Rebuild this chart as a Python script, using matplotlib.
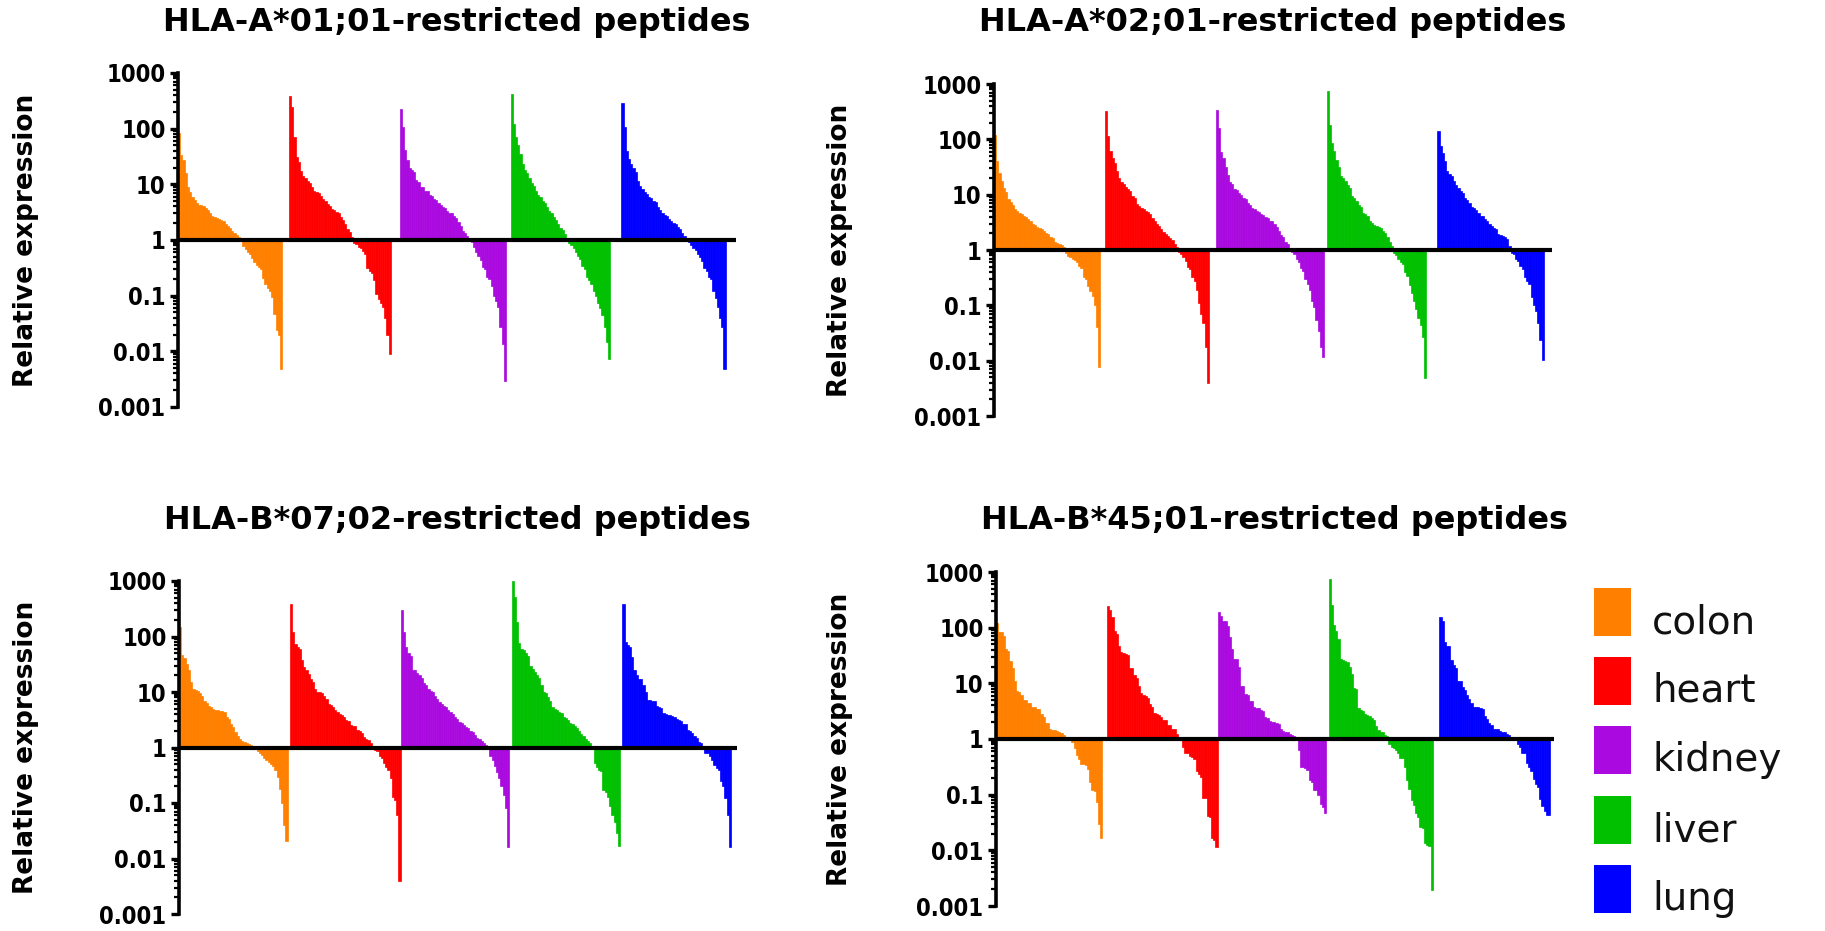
import matplotlib
matplotlib.use("Agg")
import matplotlib.pyplot as plt
from matplotlib.patches import Rectangle
from matplotlib.ticker import LogLocator, NullFormatter, FixedLocator, FixedFormatter
import numpy as np

# ---------------- data ----------------
tissues = ["colon", "heart", "kidney", "liver", "lung"]
tissue_colors = ["#FF8000", "#FF0000", "#AA0ADF", "#00C000", "#0000FF"]
panel_titles = ["HLA-A*01;01-restricted peptides", "HLA-A*02;01-restricted peptides",
                "HLA-B*07;02-restricted peptides", "HLA-B*45;01-restricted peptides"]
ytick_values = [0.001, 0.01, 0.1, 1, 10, 100, 1000]
ytick_labels = ["0.001", "0.01", "0.1", "1", "10", "100", "1000"]
y_label = "Relative expression"

# HLA-A*01;01
a0101_colon = [85, 33, 27, 16, 8.9, 7.2, 5.9, 5.2, 4.6, 4.3, 4.2, 4.0, 3.7, 3.4, 3.0, 2.75, 2.6, 2.5, 2.4, 2.3,
               2.15, 1.94, 1.8, 1.62, 1.43, 1.32, 1.23, 1.15, 0.95, 0.79, 0.69, 0.62, 0.56, 0.47, 0.4, 0.36,
               0.33, 0.30, 0.21, 0.16, 0.137, 0.12, 0.093, 0.047, 0.024, 0.02, 0.0048]
a0101_heart = [380, 245, 70, 31, 25, 17.7, 14.4, 13, 11.4, 10.5, 9.1, 7.7, 7.3, 7.0, 6.3, 5.5, 5.1, 4.5, 4.1, 3.6,
               3.5, 3.2, 3.0, 2.6, 2.3, 1.94, 1.58, 1.37, 1.15, 0.9, 0.85, 0.76, 0.72, 0.64, 0.56, 0.32, 0.28,
               0.26, 0.19, 0.107, 0.087, 0.075, 0.062, 0.04, 0.02, 0.0089]
a0101_kidney = [230, 107, 41, 27, 20, 18, 17, 12, 11, 9, 8.9, 7.7, 7.5, 6.5, 6.1, 5.5, 5.3, 4.6, 4.3, 3.9, 3.8,
                3.3, 3.1, 3.0, 2.7, 2.5, 2.1, 1.8, 1.45, 1.35, 1.2, 1.1, 0.92, 0.74, 0.6, 0.52, 0.44, 0.33, 0.3,
                0.22, 0.2, 0.15, 0.1, 0.08, 0.062, 0.027, 0.0134, 0.0029]
a0101_liver = [420, 122, 70, 50, 35, 23, 18, 16, 13, 10.5, 9.5, 7.7, 6.5, 5.9, 5.0, 4.6, 3.9, 3.3, 3.0, 2.6, 2.3,
               1.94, 1.65, 1.5, 1.28, 1.1, 0.88, 0.8, 0.72, 0.6, 0.52, 0.45, 0.34, 0.3, 0.22, 0.19, 0.16, 0.12,
               0.1, 0.075, 0.06, 0.045, 0.027, 0.015, 0.0072]
a0101_lung = [290, 107, 40, 28, 23, 20, 17, 11.7, 9.5, 8.3, 7.2, 6.8, 6.0, 5.6, 5.1, 4.8, 3.9, 3.4, 3.1, 2.8, 2.7,
              2.4, 2.2, 2.0, 1.9, 1.7, 1.55, 1.35, 1.2, 1.05, 0.92, 0.81, 0.72, 0.66, 0.55, 0.5, 0.42, 0.32,
              0.28, 0.22, 0.2, 0.12, 0.09, 0.062, 0.04, 0.027, 0.0048]

# HLA-A*02;01
a0201_colon = [120, 40, 25, 17.6, 13, 11, 8.5, 7.5, 6.5, 5.5, 5.0, 4.6, 4.4, 4.1, 4.0, 3.6, 3.4, 3.0, 2.8, 2.6,
               2.55, 2.4, 2.2, 2.0, 1.95, 1.75, 1.65, 1.4, 1.32, 1.28, 1.22, 1.12, 0.88, 0.78, 0.74, 0.68, 0.65,
               0.6, 0.52, 0.47, 0.33, 0.3, 0.22, 0.18, 0.15, 0.1, 0.04, 0.0078]
a0201_heart = [326, 113, 61, 46, 37, 27, 20, 17, 15.3, 13.7, 12.5, 11.6, 9.5, 8.8, 6.7, 6.3, 5.8, 5.6, 5.1, 4.8,
               4.4, 3.8, 3.4, 2.9, 2.7, 2.4, 2.1, 1.95, 1.8, 1.65, 1.5, 1.3, 1.15, 0.92, 0.85, 0.75, 0.64, 0.5,
               0.46, 0.32, 0.28, 0.19, 0.11, 0.07, 0.047, 0.018, 0.0039]
a0201_kidney = [340, 160, 60, 46, 31, 23, 17, 15.3, 12.5, 12, 10.5, 10, 8.8, 8.4, 7.2, 6.5, 5.8, 5.5, 5.1, 4.8,
                4.4, 4.3, 4.0, 3.8, 3.4, 3.3, 2.9, 2.6, 2.2, 1.9, 1.69, 1.4, 1.28, 1.05, 0.92, 0.85, 0.7, 0.6,
                0.48, 0.42, 0.3, 0.24, 0.19, 0.12, 0.093, 0.054, 0.035, 0.018, 0.0118]
a0201_liver = [750, 183, 86, 61, 43, 31, 22, 20, 17.6, 15, 13.4, 9.5, 8.8, 7.7, 6.5, 6.0, 4.6, 4.4, 4.1, 3.4, 3.1,
               2.8, 2.7, 2.6, 2.5, 2.2, 2.0, 1.7, 1.4, 1.2, 0.88, 0.82, 0.69, 0.6, 0.56, 0.4, 0.34, 0.23, 0.17,
               0.12, 0.085, 0.06, 0.045, 0.027, 0.0048]
a0201_lung = [143, 75, 57, 40, 27, 24, 22, 17.6, 15, 13.4, 11.5, 10.9, 8.8, 8.0, 7.2, 6.0, 5.8, 5.2, 4.7, 4.2, 4.1,
              3.7, 3.4, 3.0, 2.7, 2.5, 2.4, 1.94, 1.85, 1.8, 1.75, 1.58, 1.2, 0.9, 0.85, 0.7, 0.64, 0.52, 0.45,
              0.32, 0.27, 0.24, 0.14, 0.1, 0.08, 0.047, 0.024, 0.0103]

# HLA-B*07;02
b0702_colon = [150, 46, 41, 32, 24.6, 15.2, 11.5, 11, 10.5, 9.4, 8.5, 7.0, 6.4, 5.6, 5.3, 5.0, 4.8, 4.7, 4.6, 4.5,
               4.3, 3.6, 3.2, 2.6, 2.3, 1.9, 1.6, 1.4, 1.3, 1.25, 1.2, 1.15, 1.1, 1.07, 1.04, 0.88, 0.8, 0.74,
               0.65, 0.6, 0.55, 0.5, 0.46, 0.4, 0.3, 0.18, 0.1, 0.04, 0.021]
b0702_heart = [385, 120, 74, 66, 60, 38, 28, 24.6, 21.4, 17.4, 15, 11.5, 10.1, 10, 9.4, 8.5, 7.6, 6.0, 5.8, 5.4,
               4.8, 4.4, 4.0, 3.8, 3.6, 3.1, 3.0, 2.5, 2.45, 2.4, 2.07, 2.0, 1.8, 1.55, 1.45, 1.34, 1.23, 1.05,
               0.9, 0.85, 0.7, 0.65, 0.52, 0.45, 0.4, 0.28, 0.13, 0.115, 0.062, 0.004]
b0702_kidney = [300, 120, 66, 50, 44, 25, 25, 22, 20, 18.2, 14.5, 13.2, 11.5, 10.5, 10, 8.5, 7.6, 6.6, 6.2, 5.6,
                5.4, 4.8, 4.4, 4.0, 3.6, 3.2, 2.9, 2.8, 2.5, 2.3, 2.2, 1.95, 1.9, 1.7, 1.5, 1.45, 1.3, 1.2, 1.1,
                0.97, 0.69, 0.6, 0.46, 0.36, 0.28, 0.2, 0.14, 0.08, 0.0158]
b0702_liver = [980, 505, 180, 75, 60, 56, 50, 45, 30, 26, 23, 20, 18, 13.2, 10, 9.4, 8.2, 7, 5.4, 5.0, 4.7, 4.3,
               4.1, 3.6, 3.4, 3.1, 2.8, 2.6, 2.4, 2.2, 2.0, 1.75, 1.6, 1.45, 1.3, 1.2, 1.05, 0.52, 0.45, 0.4,
               0.37, 0.17, 0.16, 0.13, 0.09, 0.06, 0.045, 0.029, 0.017]
b0702_lung = [385, 79, 69, 65, 43, 24.6, 20, 17.4, 17, 13.2, 10, 7.1, 7.1, 7.0, 6.9, 5.6, 5.3, 5.2, 4.1, 4.0, 3.9,
              3.8, 3.7, 3.6, 3.3, 3.1, 3.0, 2.7, 2.6, 2.07, 2.0, 1.8, 1.6, 1.5, 1.28, 1.2, 1.02, 0.81, 0.78, 0.69,
              0.6, 0.49, 0.42, 0.4, 0.25, 0.2, 0.124, 0.06, 0.016]

# HLA-B*45;01
b4501_colon = [123, 84, 84, 70, 42, 38, 25, 19, 11, 7.2, 7.0, 6.1, 5.1, 5.0, 4.4, 4.4, 3.8, 3.8, 3.5, 3.4, 2.85,
               2.5, 1.94, 1.94, 1.53, 1.47, 1.45, 1.37, 1.35, 1.28, 1.2, 1.0, 1.0, 0.95, 0.88, 0.7, 0.51, 0.43,
               0.36, 0.35, 0.34, 0.29, 0.17, 0.12, 0.115, 0.074, 0.03, 0.017]
b4501_heart = [250, 204, 155, 86, 78, 47, 36, 35, 34, 32, 19, 19, 14.3, 12.5, 8.8, 6.7, 6.1, 6.0, 5.5, 4.3, 3.8,
               2.97, 2.77, 2.75, 2.5, 2.2, 2.2, 1.76, 1.76, 1.53, 1.5, 1.25, 1.0, 1.0, 0.72, 0.56, 0.55, 0.5,
               0.48, 0.44, 0.27, 0.24, 0.21, 0.088, 0.088, 0.041, 0.04, 0.017, 0.0155, 0.0114]
b4501_kidney = [188, 164, 134, 134, 109, 67, 41, 27.5, 27.5, 19.5, 8.8, 8.8, 6.5, 6.1, 4.9, 4.9, 3.8, 3.6, 3.6,
                3.3, 3.2, 2.5, 2.4, 2.07, 2.05, 2.0, 1.9, 1.85, 1.5, 1.39, 1.33, 1.32, 1.25, 1.2, 1.15, 0.95, 0.64,
                0.31, 0.31, 0.3, 0.28, 0.18, 0.17, 0.12, 0.12, 0.1, 0.069, 0.06, 0.047]
b4501_liver = [740, 258, 113, 87, 62, 27, 26, 25, 24, 19.6, 14.9, 8.2, 8.0, 3.6, 3.3, 3.2, 2.77, 2.7, 2.55, 2.4,
               2.2, 1.7, 1.43, 1.34, 1.33, 1.16, 1.15, 0.8, 0.72, 0.69, 0.63, 0.55, 0.46, 0.45, 0.31, 0.186, 0.128,
               0.08, 0.064, 0.047, 0.04, 0.026, 0.025, 0.0135, 0.0123, 0.012, 0.0019]
b4501_lung = [156, 130, 55, 47, 47, 26, 21, 19.1, 11, 11, 8.6, 7.5, 6.3, 5.3, 4.5, 3.7, 3.7, 3.7, 3.6, 3.4, 2.55,
              2.25, 1.97, 1.8, 1.53, 1.5, 1.49, 1.39, 1.35, 1.33, 1.25, 1.16, 1.05, 1.0, 1.0, 0.82, 0.72, 0.55,
              0.55, 0.37, 0.31, 0.27, 0.19, 0.155, 0.138, 0.085, 0.062, 0.051, 0.044, 0.044]

panels = [
    [a0101_colon, a0101_heart, a0101_kidney, a0101_liver, a0101_lung],
    [a0201_colon, a0201_heart, a0201_kidney, a0201_liver, a0201_lung],
    [b0702_colon, b0702_heart, b0702_kidney, b0702_liver, b0702_lung],
    [b4501_colon, b4501_heart, b4501_kidney, b4501_liver, b4501_lung],
]

# ---------------- layout (pixels) ----------------
W, H = 1825, 931
SLOT = 50          # bar slots reserved per tissue
XMAX = 251.5
# left, top(y=1000), bottom(y=0.001)
boxes = [(178, 73, 407), (994, 84, 416), (179, 581, 914), (996, 572, 906)]
title_y = [22, 23, 520, 520]
ylabel_x = [26, 840, 26, 840]
axw = XMAX * 2.217

fig = plt.figure(figsize=(W / 100, H / 100), dpi=100)

for p, groups in enumerate(panels):
    left, top, bottom = boxes[p]
    ax = fig.add_axes([left / W, 1 - bottom / H, axw / W, (bottom - top) / H])
    for g, vals in enumerate(groups):
        v = np.asarray(vals, dtype=float)
        x = g * SLOT + np.arange(len(v))
        ax.bar(x, v - 1.0, bottom=1.0, width=1.0, align="edge",
               color=tissue_colors[g], edgecolor=tissue_colors[g], linewidth=0.5, zorder=2)
    ax.set_yscale("log")
    ax.set_ylim(0.001, 1000)
    ax.set_xlim(0, XMAX)
    ax.axhline(1.0, color="black", lw=3.0, zorder=5, solid_capstyle="butt")
    for s in ["top", "right", "bottom"]:
        ax.spines[s].set_visible(False)
    ax.spines["left"].set_linewidth(2.6)
    ax.set_xticks([])
    ax.yaxis.set_major_locator(FixedLocator(ytick_values))
    ax.yaxis.set_major_formatter(FixedFormatter(ytick_labels))
    ax.yaxis.set_minor_locator(LogLocator(base=10, subs=np.arange(2, 10), numticks=20))
    ax.yaxis.set_minor_formatter(NullFormatter())
    ax.tick_params(axis="y", which="major", direction="out", length=6, width=2.4, pad=3)
    ax.tick_params(axis="y", which="minor", direction="out", length=3.5, width=1.6)
    for lbl in ax.get_yticklabels():
        lbl.set_fontsize(17)
        lbl.set_fontweight("bold")
        lbl.set_fontstretch("condensed")
    ax.patch.set_alpha(0)

    cx = (left + axw / 2) / W
    fig.text(cx, 1 - title_y[p] / H, panel_titles[p], ha="center", va="center",
             fontsize=23, fontweight="bold", family="DejaVu Sans")
    fig.text(ylabel_x[p] / W, 1 - (top + bottom) / 2 / H, y_label, rotation=90,
             ha="center", va="center", fontsize=19, fontweight="bold", family="DejaVu Sans")

# ---------------- legend ----------------
sq_tops = [588, 657, 726, 796, 865]
for g, name in enumerate(tissues):
    t = sq_tops[g]
    fig.patches.append(Rectangle((1594 / W, 1 - (t + 48) / H), 37 / W, 48 / H,
                                 transform=fig.transFigure, facecolor=tissue_colors[g],
                                 edgecolor="none"))
    fig.text(1652 / W, 1 - (t + 45) / H, name, ha="left", va="baseline",
             fontsize=28, family="DejaVu Sans", color="#111111")

fig.savefig("out.png", dpi=100)
